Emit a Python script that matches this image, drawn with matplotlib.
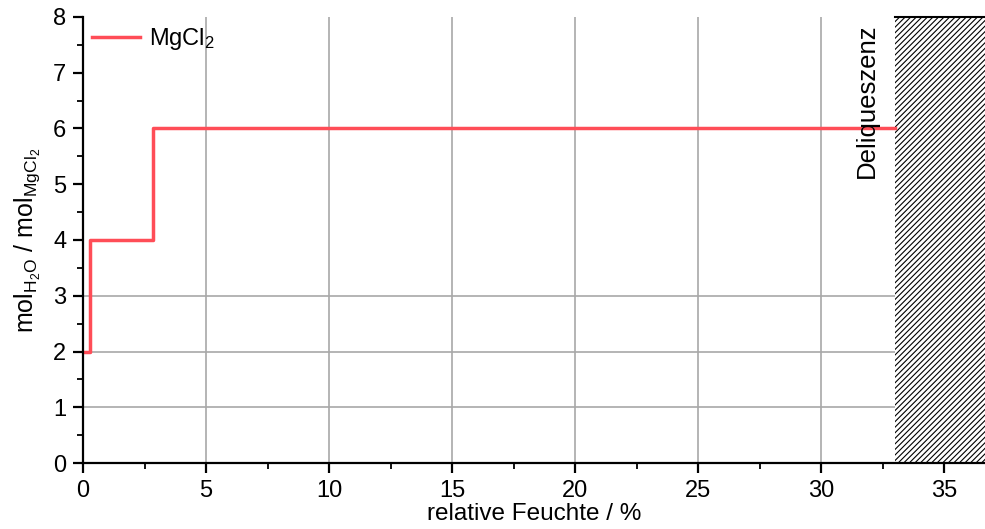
import matplotlib.pyplot as plt
from matplotlib.patches import Rectangle
from matplotlib.ticker import MultipleLocator

plt.rcParams['font.family'] = ['Liberation Sans', 'DejaVu Sans']
plt.rcParams['mathtext.fontset'] = 'custom'
plt.rcParams['mathtext.rm'] = 'Liberation Sans'
plt.rcParams['mathtext.it'] = 'Liberation Sans'

# Hydratstufen von MgCl2 über der relativen Feuchte
rh = [0, 0.3, 2.85, 33.0]
hydrate = [2, 4, 6, 6]
deliq_start = 33.0
x_max = 36.65
y_max = 8

fig = plt.figure(figsize=(9.85, 5.29), dpi=100)
ax = fig.add_axes([0.0843, 0.1247, 1 - 0.0843, 0.968 - 0.1247])

# Gitter nur teilweise (wie im Original)
for xv in [5, 10, 15, 20, 25, 30]:
    ax.axvline(xv, color='#a8a8a8', lw=1.2, zorder=1)
for yv in [1, 2, 3]:
    ax.axhline(yv, color='#a8a8a8', lw=1.2, zorder=1)

ax.plot(rh, hydrate, drawstyle='steps-post', color='#ff4d57', lw=2.5,
        label=r'MgCl$_\mathregular{2}$', zorder=3)

# Deliqueszenzbereich schraffiert
plt.rcParams['hatch.linewidth'] = 0.8
ax.add_patch(Rectangle((deliq_start, 0), x_max - deliq_start, y_max,
                       facecolor='white', edgecolor='black', hatch='//////',
                       lw=0, zorder=2))
ax.plot([deliq_start, x_max], [y_max, y_max], color='black', lw=1.5,
        clip_on=False, zorder=4)
ax.text(31.85, 6.5, 'Deliqueszenz', rotation=90, fontsize=18.5,
        ha='center', va='center')

ax.set_xlim(0, x_max)
ax.set_ylim(0, y_max)
ax.xaxis.set_major_locator(MultipleLocator(5))
ax.xaxis.set_minor_locator(MultipleLocator(2.5))
ax.yaxis.set_major_locator(MultipleLocator(1))
ax.yaxis.set_minor_locator(MultipleLocator(0.5))

for side in ['top', 'right']:
    ax.spines[side].set_visible(False)
for side in ['left', 'bottom']:
    ax.spines[side].set_linewidth(1.6)
    ax.spines[side].set_zorder(5)

ax.tick_params(which='major', direction='out', length=7, width=1.6,
               labelsize=17, pad=5)
ax.tick_params(which='minor', direction='out', length=4, width=1.3)

ax.set_xlabel('relative Feuchte / %', fontsize=17.5, labelpad=1)
ax.set_ylabel(r'mol$_\mathregular{H_2O}$ / mol$_\mathregular{MgCl_2}$',
              fontsize=18, labelpad=8)

ax.legend(loc='upper left', frameon=False, fontsize=17, handlelength=2.0,
          borderaxespad=0.1, handletextpad=0.4, borderpad=0.3)

fig.savefig('out.png', dpi=100)
